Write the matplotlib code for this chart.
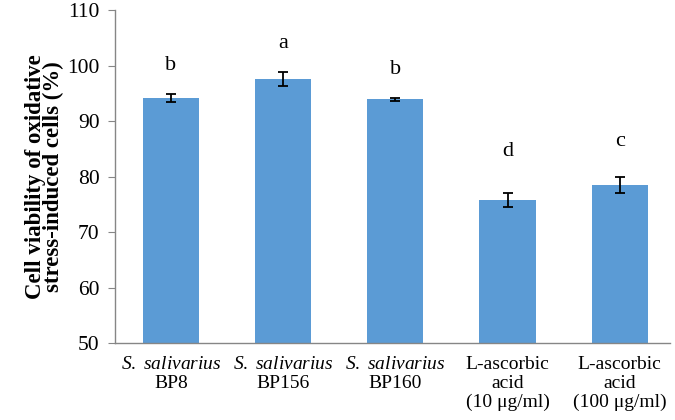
import matplotlib
matplotlib.use("Agg")
import matplotlib.pyplot as plt

categories = ["$\\it{S.}$ $\\it{salivarius}$\nBP8", "$\\it{S.}$ $\\it{salivarius}$\nBP156", "$\\it{S.}$ $\\it{salivarius}$\nBP160",
              "L-ascorbic\nacid\n(10 μg/ml)", "L-ascorbic\nacid\n(100 μg/ml)"]
values = [94.1, 97.6, 93.9, 75.8, 78.5]
errors = [0.7, 1.3, 0.3, 1.3, 1.4]
letters = ["b", "a", "b", "d", "c"]
letter_y = [100.0, 103.9, 99.3, 84.6, 86.3]

plt.rcParams['font.family'] = ['Liberation Serif', 'DejaVu Serif']
plt.rcParams['mathtext.fontset'] = 'custom'
plt.rcParams['mathtext.it'] = 'Liberation Serif:italic'
plt.rcParams['mathtext.rm'] = 'Liberation Serif'

fig = plt.figure(figsize=(6.75, 4.2), dpi=100)
ax = fig.add_axes([0.170, 0.183, 0.823, 0.793])
x = list(range(len(values)))
ax.bar(x, values, width=0.5, color='#5b9bd5', bottom=0,
       yerr=errors, error_kw=dict(ecolor='black', elinewidth=1.3, capsize=3.5, capthick=1.3))
for xi, l, ly in zip(x, letters, letter_y):
    ax.text(xi, ly, l, ha='center', va='center', fontsize=16)
ax.set_ylim(50, 110)
ax.set_xlim(-0.5, 4.45)
ax.set_yticks(range(50, 111, 10))
ax.set_xticks(x)
ax.set_xticklabels(categories, fontsize=14, linespacing=1.15)
ax.tick_params(axis='x', length=0, pad=9)
ax.tick_params(axis='y', labelsize=15.5, length=5, color='#868686', direction='out', pad=6)
for s in ['top', 'right']:
    ax.spines[s].set_visible(False)
for s in ['left', 'bottom']:
    ax.spines[s].set_color('#868686')
    ax.spines[s].set_linewidth(1.0)
ax.set_ylabel("Cell viability of oxidative\nstress-induced cells (%)", fontsize=16.5, fontweight='bold',
              linespacing=0.85, labelpad=2)
fig.savefig("out.png", dpi=100)
